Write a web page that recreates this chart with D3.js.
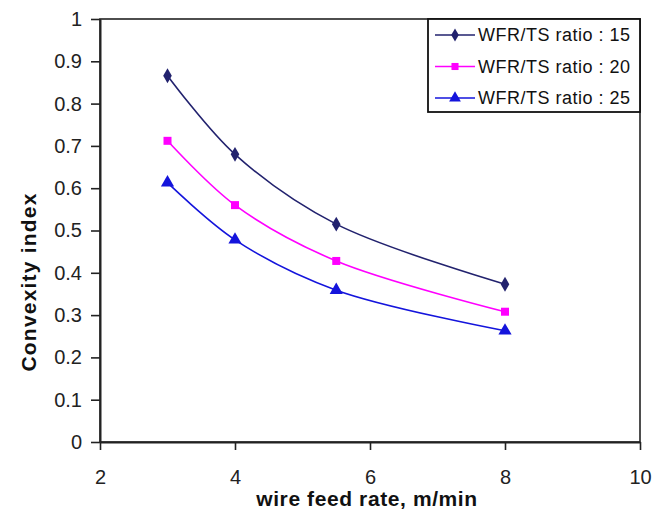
<!DOCTYPE html>
<html>
<head>
<meta charset="utf-8">
<script src="https://cdn.jsdelivr.net/npm/d3@7"></script>
<style>
  body { margin: 0; background: #fff; }
  text { font-family: Arial, "Liberation Sans", sans-serif; }
</style>
</head>
<body>
<script>
// data
var feedRate = [3, 4, 5.5, 8];
var ratio15 = [0.866, 0.68, 0.515, 0.373];
var ratio20 = [0.712, 0.56, 0.428, 0.308];
var ratio25 = [0.613, 0.478, 0.359, 0.263];
var seriesNames = ["WFR/TS ratio : 15", "WFR/TS ratio : 20", "WFR/TS ratio : 25"];
var xTicks = [2, 4, 6, 8, 10];
var yTicks = [0, 0.1, 0.2, 0.3, 0.4, 0.5, 0.6, 0.7, 0.8, 0.9, 1];

var series = [
  {name: seriesNames[0], values: ratio15, color: "#22226e", marker: d3.symbolDiamond},
  {name: seriesNames[1], values: ratio20, color: "#ff00ff", marker: d3.symbolSquare},
  {name: seriesNames[2], values: ratio25, color: "#1414dc", marker: d3.symbolTriangle}
];

var W = 666, H = 509;
var margin = {top: 19, right: 26, bottom: 67, left: 100};

var svg = d3.select("body").append("svg")
    .attr("width", W)
    .attr("height", H);

var x = d3.scaleLinear().domain([2, 10]).range([margin.left, W - margin.right]);
var y = d3.scaleLinear().domain([0, 1]).range([H - margin.bottom, margin.top]);

// cadre de la zone de tracé (haut et droite)
svg.append("rect")
    .attr("x", x(2)).attr("y", y(1))
    .attr("width", x(10) - x(2)).attr("height", y(0) - y(1))
    .attr("fill", "none").attr("stroke", "#222").attr("stroke-width", 1.6);

// axes
var xAxis = svg.append("g")
    .attr("transform", "translate(0," + y(0) + ")")
    .call(d3.axisBottom(x).tickValues(xTicks).tickSize(8).tickSizeOuter(0).tickPadding(20));
var yAxis = svg.append("g")
    .attr("transform", "translate(" + x(2) + ",0)")
    .call(d3.axisLeft(y).tickValues(yTicks).tickSize(9).tickSizeOuter(0).tickPadding(9)
      .tickFormat(function (d) { return d3.format("")(+d.toFixed(1)); }));

[xAxis, yAxis].forEach(function (g) {
  g.select(".domain").attr("stroke", "#222").attr("stroke-width", 2);
  g.selectAll(".tick line").attr("stroke", "#222").attr("stroke-width", 1.6);
  g.selectAll(".tick text").attr("fill", "#222").style("font-size", "20px")
    .style("font-family", "Arial, 'Liberation Sans', sans-serif");
});

// titoli degli assi
svg.append("text")
    .attr("x", 367).attr("y", 506)
    .attr("text-anchor", "middle")
    .style("font-size", "21px").style("font-weight", "bold")
    .style("letter-spacing", "0.6px")
    .attr("fill", "#111")
    .text("wire feed rate, m/min");

svg.append("text")
    .attr("transform", "translate(36,282) rotate(-90)")
    .attr("text-anchor", "middle")
    .style("font-size", "21px").style("font-weight", "bold")
    .style("letter-spacing", "1.2px")
    .attr("fill", "#111")
    .text("Convexity index");

// linee
var line = d3.line()
    .x(function (d, i) { return x(feedRate[i]); })
    .y(function (d) { return y(d); })
    .curve(d3.curveCatmullRom.alpha(0.5));

series.forEach(function (s) {
  svg.append("path")
      .attr("d", line(s.values))
      .attr("fill", "none")
      .attr("stroke", s.color)
      .attr("stroke-width", 1.6);

  svg.selectAll(null).data(s.values).enter().append("path")
      .attr("transform", function (d, i) { return "translate(" + x(feedRate[i]) + "," + y(d) + ")"; })
      .attr("d", d3.symbol().type(s.marker).size(s.marker === d3.symbolTriangle ? 75 : 64))
      .attr("fill", s.color);
});

// legenda
var legend = svg.append("g").attr("transform", "translate(428,19)");
legend.append("rect")
    .attr("width", 212).attr("height", 93)
    .attr("fill", "#fff").attr("stroke", "#111").attr("stroke-width", 1.8);

series.forEach(function (s, i) {
  var row = legend.append("g").attr("transform", "translate(0," + (16 + i * 31.5) + ")");
  row.append("line")
      .attr("x1", 7).attr("x2", 47)
      .attr("stroke", s.color).attr("stroke-width", 1.6);
  row.append("path")
      .attr("transform", "translate(27,0)")
      .attr("d", d3.symbol().type(s.marker).size(s.marker === d3.symbolTriangle ? 60 : 50))
      .attr("fill", s.color);
  row.append("text")
      .attr("x", 50).attr("y", 6)
      .style("font-size", "18px")
      .style("letter-spacing", "0.5px")
      .attr("fill", "#111")
      .text(s.name);
});
</script>
</body>
</html>
